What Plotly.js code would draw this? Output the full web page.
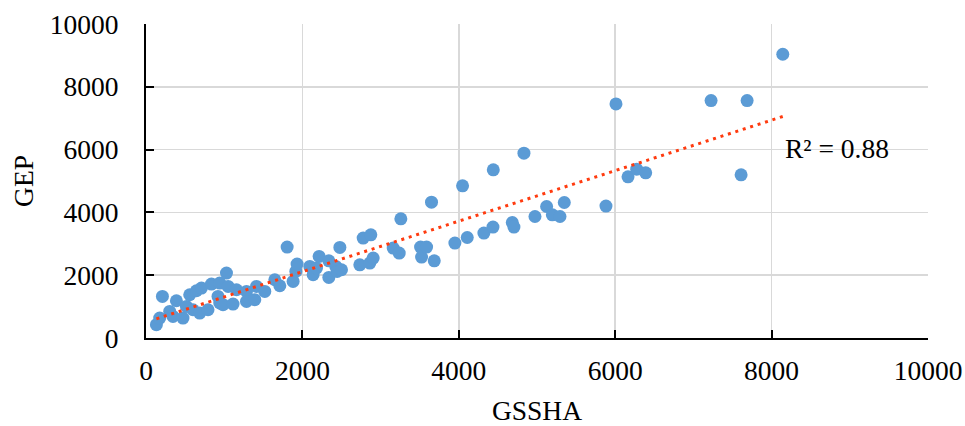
<!DOCTYPE html>
<html>
<head>
<meta charset="utf-8">
<script src="https://cdn.plot.ly/plotly-3.0.1.min.js"></script>
<style>html,body{margin:0;padding:0;background:#fff;}#chart{width:965px;height:426px;}</style>
</head>
<body>
<div id="chart"></div>
<script>
// GSSHA (x) vs GEP (y) values
const gssha = [133,175,210,303,345,389,473,517,559,601,645,687,709,793,837,921,943,943,985,1029,1050,1113,1157,1285,1285,1391,1413,1519,1647,1711,1805,1881,1916,1932,2095,2137,2180,2214,2338,2338,2427,2444,2479,2500,2734,2777,2862,2875,2905,3161,3238,3259,3511,3524,3588,3651,3686,3950,4048,4108,4321,4437,4441,4684,4705,4833,4974,5123,5196,5294,5349,5882,6010,6164,6275,6390,7226,7610,7687,8143];
const gep   = [423,636,1324,846,687,1187,636,1005,1378,900,1505,795,1591,900,1718,1324,1750,1114,1060,2068,1642,1082,1537,1483,1165,1219,1642,1483,1855,1664,2895,1801,2119,2354,2278,2014,2227,2597,2459,1928,2278,2119,2883,2173,2332,3181,2386,3287,2545,2863,2704,3796,2895,2577,2895,4327,2459,3022,4846,3201,3341,3532,5355,3679,3532,5886,3870,4188,3923,3870,4315,4200,7455,5132,5377,5259,7560,5196,7560,9036];
const xTicks = [0,2000,4000,6000,8000,10000];
const yTicks = [0,2000,4000,6000,8000,10000];
const xTitle = "GSSHA";
const yTitle = "GEP";
const r2Label = "R² = 0.88";   // label as printed in the reference
const r2LabelPos = [8150, 6050];

// least-squares linear trend computed from the data
const n = gssha.length;
const mx = gssha.reduce((a,b)=>a+b,0)/n;
const my = gep.reduce((a,b)=>a+b,0)/n;
let sxy=0,sxx=0;
for(let i=0;i<n;i++){sxy+=(gssha[i]-mx)*(gep[i]-my);sxx+=(gssha[i]-mx)**2;}
const slope=sxy/sxx, icpt=my-slope*mx;
const xmin=Math.min(...gssha), xmax=Math.max(...gssha);
const trendX=[xmin,xmax], trendY=trendX.map(v=>icpt+slope*v);

const font = {family:"Liberation Serif, 'Times New Roman', serif", size:27.5, color:"#000"};

const traces = [
  {x:gssha,y:gep,type:"scatter",mode:"markers",marker:{color:"#5b9bd5",size:13},hoverinfo:"skip"},
  {x:trendX,y:trendY,type:"scatter",mode:"lines",line:{color:"#ff3b0f",width:3,dash:"3px,4.8px"},hoverinfo:"skip"}
];
const axisCommon = {
  showline:true,linecolor:"#000",linewidth:2,
  ticks:"inside",ticklen:8,tickwidth:2,tickcolor:"#000",
  showgrid:true,gridcolor:"#d9d9d9",gridwidth:1.5,zeroline:false,
  tickfont:font,range:[0,10000],fixedrange:true
};
const layout = {
  width:965,height:426,
  margin:{l:146,r:37,t:24,b:88},
  paper_bgcolor:"#fff",plot_bgcolor:"#fff",
  showlegend:false,font:font,
  xaxis:Object.assign({},axisCommon,{tickvals:xTicks,ticktext:xTicks.map(String),ticklabelstandoff:7,title:{text:xTitle,font:font,standoff:16}}),
  yaxis:Object.assign({},axisCommon,{tickvals:yTicks,ticktext:yTicks.map(String),ticklabelstandoff:20,title:{text:yTitle,font:font,standoff:8}}),
  annotations:[{x:r2LabelPos[0],y:r2LabelPos[1],xref:"x",yref:"y",xanchor:"left",yanchor:"middle",showarrow:false,
    text:r2Label,font:font}]
};
Plotly.newPlot("chart",traces,layout,{displayModeBar:false,staticPlot:true});
</script>
</body>
</html>
